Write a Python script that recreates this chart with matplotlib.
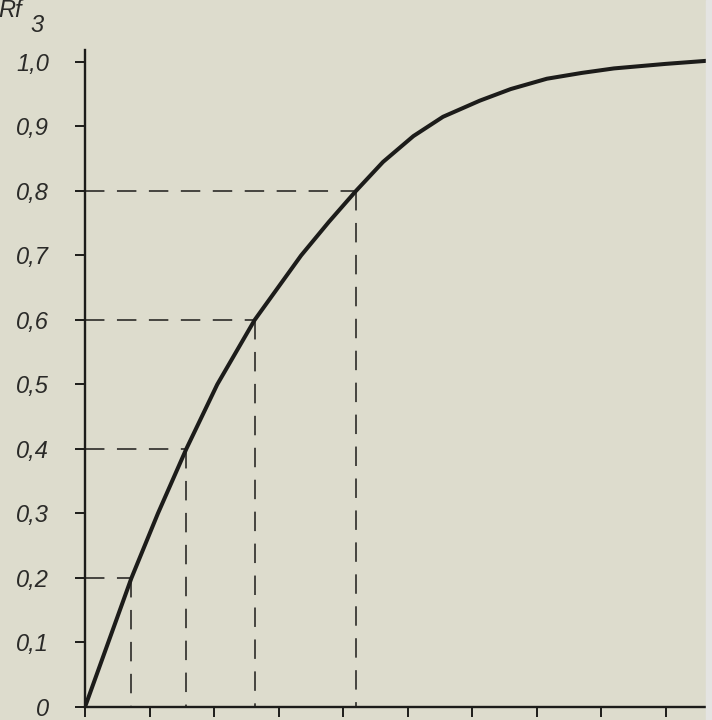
import matplotlib
matplotlib.use("Agg")
import matplotlib.pyplot as plt
import matplotlib.patches as mpatches

# values
curve_x = [0, 0.36, 0.72, 1.13, 1.57, 2.05, 2.63, 3.35, 3.78, 4.2, 4.62, 5.09, 5.55,
           6.12, 6.6, 7.16, 7.7, 8.2, 9.0, 9.8]
curve_y = [0, 0.1, 0.2, 0.3, 0.4, 0.5, 0.6, 0.7, 0.752, 0.8, 0.845, 0.885, 0.915,
           0.94, 0.958, 0.974, 0.983, 0.99, 0.997, 1.003]

levels = [0.2, 0.4, 0.6, 0.8]
level_x = [0.72, 1.57, 2.63, 4.2]

y_ticks = [0, 0.1, 0.2, 0.3, 0.4, 0.5, 0.6, 0.7, 0.8, 0.9, 1.0]
y_labels = ["0", "0,1", "0,2", "0,3", "0,4", "0,5", "0,6", "0,7", "0,8", "0,9", "1,0"]
x_ticks = [0, 1, 2, 3, 4, 5, 6, 7, 8, 9]

paper = "#dddccd"
ink = "#1c1c1a"
plt.rcParams["lines.scale_dashes"] = False

fig = plt.figure(figsize=(7.12, 7.2), dpi=100, facecolor=paper)
# pale scan edge on the right
fig.patches.append(mpatches.Rectangle((0.992, 0), 0.008, 1, transform=fig.transFigure,
                                      color="#e4e4e2", zorder=0))

ax = fig.add_axes([0.1194, 0.0181, 0.8806, 0.9125])
ax.set_facecolor(paper)
ax.set_xlim(0, 9.72)
ax.set_ylim(0, 1.0186)

ax.plot(curve_x, curve_y, color=ink, linewidth=2.9, solid_joinstyle="round",
        solid_capstyle="round", zorder=3)

for lv, lx in zip(levels, level_x):
    ax.plot([0, lx], [lv, lv], color=ink, linewidth=1.1, dashes=(14, 9), zorder=2)
    ax.plot([lx, lx], [lv, 0], color=ink, linewidth=1.1, dashes=(14, 9), zorder=2)

for side in ("top", "right"):
    ax.spines[side].set_visible(False)
for side in ("left", "bottom"):
    ax.spines[side].set_linewidth(1.7)
    ax.spines[side].set_color(ink)

ax.set_yticks(y_ticks)
ax.set_yticklabels(y_labels, fontfamily="Liberation Sans", fontstyle="italic",
                   fontsize=17, color="#2a2a28")
ax.set_xticks(x_ticks)
ax.set_xticklabels([])
ax.tick_params(axis="both", direction="out", length=7, width=1.4, color=ink)
ax.tick_params(axis="y", pad=19)

fig.text(-0.002, 0.976, "Rf", fontfamily="Liberation Sans", fontstyle="italic",
         fontsize=17, color="#2a2a28", va="baseline", ha="left")
fig.text(0.043, 0.956, "3", fontfamily="Liberation Sans", fontstyle="italic",
         fontsize=17, color="#2a2a28", va="baseline", ha="left")

fig.savefig("out.png", dpi=100, facecolor=paper)
